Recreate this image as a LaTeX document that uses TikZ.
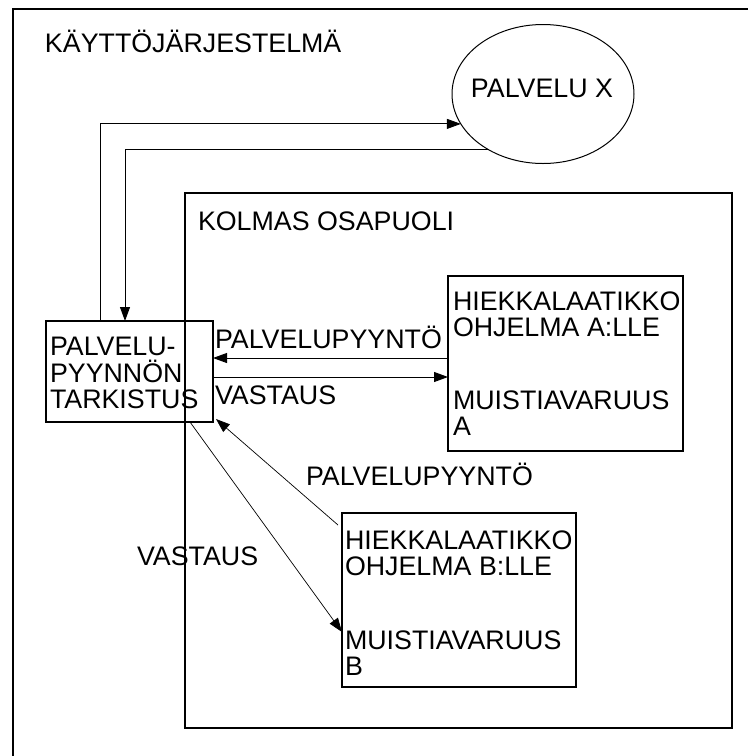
\documentclass[tikz,border=0pt]{standalone}
\usepackage{fontspec}
\setmainfont{Liberation Sans}
\usetikzlibrary{arrows.meta,shapes.geometric,calc}
\begin{document}
\begin{tikzpicture}[x=1pt,y=-1pt,
  frame/.style={draw, line width=1.3pt, rectangle, inner sep=0pt, outer sep=0pt, anchor=north west},
  lbl/.style={anchor=base west, inner sep=0pt, outer sep=0pt, font=\fontsize{26.8}{26.5}\selectfont},
  link/.style={line width=0.9pt},
  arr/.style={link, -{Triangle[length=14pt,width=10pt]}}]

% canvas
\fill[white] (0,0) rectangle (748,756);
\useasboundingbox (0,0) rectangle (748,756);

% operating system frame (top and left edges)
\draw[line width=1.6pt] (13,756) -- (13,9) -- (748,9);
\node[lbl] (os) at (45,52) {KÄYTTÖJÄRJESTELMÄ};

% service X
\node[draw, ellipse, line width=1pt, inner sep=0pt, outer sep=0pt,
      minimum width=182pt, minimum height=139pt] (px) at (543,94) {};
\node[lbl, anchor=base] (pxt) at (542,97) {PALVELU X};

% third party area
\node[frame, minimum width=547pt, minimum height=535pt] (tp) at (185,193) {};
\node[lbl] (tpt) at (198,230) {KOLMAS OSAPUOLI};

% request checker
\node[frame, minimum width=167pt, minimum height=101pt] (chk) at (46,321) {};
\node[lbl] (chk1) at (50,355) {PALVELU-};
\node[lbl] (chk2) at (50,382) {PYYNNÖN};
\node[lbl] (chk3) at (50,408) {TARKISTUS};

% sandbox A
\node[frame, minimum width=235pt, minimum height=175pt] (sbA) at (448,276) {};
\node[lbl] (a1) at (453,310) {HIEKKALAATIKKO};
\node[lbl] (a2) at (453,336) {OHJELMA A:LLE};
\node[lbl] (a3) at (453,409) {MUISTIAVARUUS};
\node[lbl] (a4) at (453,435) {A};

% sandbox B
\node[frame, minimum width=234pt, minimum height=174pt] (sbB) at (342,513) {};
\node[lbl] (b1) at (345,549) {HIEKKALAATIKKO};
\node[lbl] (b2) at (345,575) {OHJELMA B:LLE};
\node[lbl] (b3) at (345,649) {MUISTIAVARUUS};
\node[lbl] (b4) at (345,675) {B};

% helper coordinates for the orthogonal routes
\coordinate (upx) at (100,0);
\coordinate (dnx) at (125,0);
\coordinate (reqA) at (0,358);
\coordinate (ansA) at (0,377);
\coordinate (ansB) at (190,0);

% checker <-> service X
\draw[arr] (chk.north -| upx) |- (px.200);
\draw[arr] (px.225.7) -| (chk.north -| dnx);

% checker <-> sandbox A
\draw[arr] (sbA.west |- reqA) -- (chk.east |- reqA);
\draw[arr] (chk.east |- ansA) -- (sbA.west |- ansA);
\node[lbl] (reqAt) at (215,348) {PALVELUPYYNTÖ};
\node[lbl] (ansAt) at (215,404) {VASTAUS};

% checker <-> sandbox B
\draw[arr, line width=0.7pt] ($(sbB.north west)+(-4,12)$) -- ($(chk.south east)+(3,-3)$);
\draw[arr, line width=0.7pt] (chk.south -| ansB) -- ($(sbB.west)+(0,32)$);
\node[lbl] (reqBt) at (306,485) {PALVELUPYYNTÖ};
\node[lbl] (ansBt) at (137,565) {VASTAUS};
\end{tikzpicture}
\end{document}
